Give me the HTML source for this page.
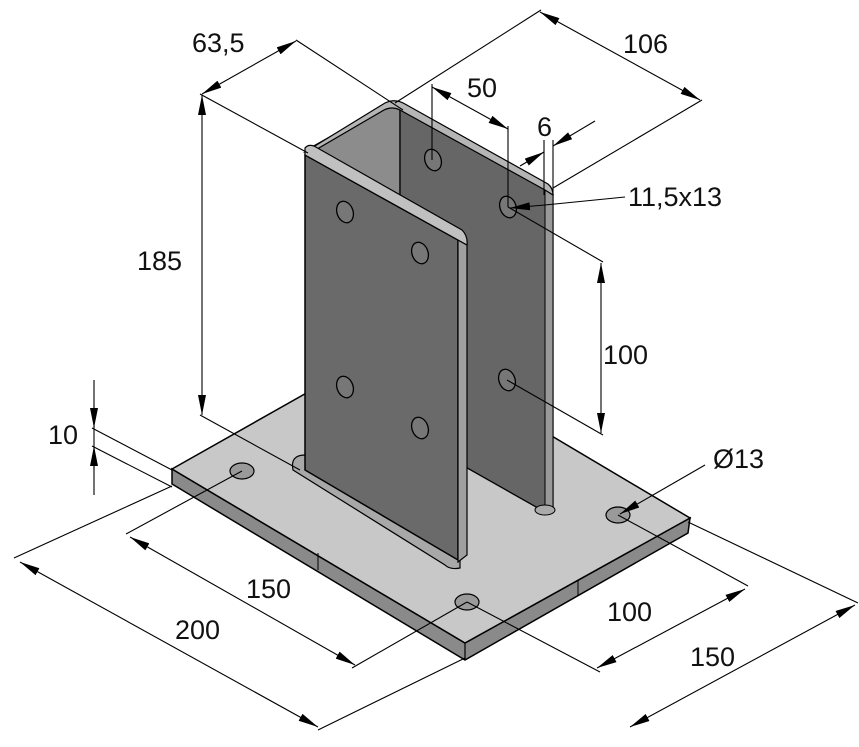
<!DOCTYPE html>
<html><head><style>
html,body{margin:0;padding:0;background:#fff;}
svg{display:block;}
text{font-family:"Liberation Sans",sans-serif;font-size:27px;fill:#111;}
</style></head><body>
<svg width="859" height="747" viewBox="0 0 859 747" xmlns="http://www.w3.org/2000/svg">
<defs>
<marker id="a" viewBox="0 0 20 8" refX="20" refY="4" markerWidth="20" markerHeight="8" markerUnits="userSpaceOnUse" orient="auto-start-reverse"><path d="M0,0 L20,4 L0,8 Z" fill="#000"/></marker>
</defs>
<!-- base plate -->
<polygon points="172,469 172,484 465,660 688,533 690,518 465,643" fill="#8a8a8a" stroke="#000" stroke-width="1.5"/>
<polygon points="172,469 395,343 690,518 465,643" fill="#c8c8c8" stroke="#000" stroke-width="1.5"/>
<line x1="465" y1="643" x2="465" y2="660" stroke="#000" stroke-width="1.2"/>
<line x1="318" y1="553" x2="318" y2="570" stroke="#000"/>
<line x1="578" y1="580" x2="578" y2="595" stroke="#000"/>
<ellipse cx="242" cy="471" rx="12" ry="8" fill="#9a9a9a" stroke="#000" stroke-width="1.2"/>
<ellipse cx="618" cy="515" rx="12" ry="8" fill="#9a9a9a" stroke="#000" stroke-width="1.2"/>
<ellipse cx="467" cy="602" rx="12" ry="8" fill="#9a9a9a" stroke="#000" stroke-width="1.2"/>
<!-- post: web and back flange -->
<polygon points="310,148 390,103 400,106 400,420 310,460" fill="#8c8c8c" stroke="#000" stroke-width="1.2"/>
<polygon points="400,108 545,188 553,194 553,512 545,512 400,430" fill="#666" stroke="#000" stroke-width="1.3"/>
<polygon points="545,190 553,194 553,512 545,512" fill="#999" stroke="#000" stroke-width="1"/>
<path d="M305,152 L385,103 Q395,98 405,104 L548,184 Q553,188 553,195 L545,190 L400,110 Q392,106 384,110 L312,152 Z" fill="#b5b5b5" stroke="#000" stroke-width="1.2"/>
<ellipse cx="545" cy="510" rx="10" ry="5" fill="#aaa" stroke="#000"/>
<!-- front flange -->
<path d="M293,470 Q290,455 305,455 L460,550 L460,568 Q450,570 445,565 Z" fill="#a8a8a8" stroke="#000" stroke-width="1.2"/>
<polygon points="305,155 458,240 458,560 305,470" fill="#6a6a6a" stroke="#000" stroke-width="1.5"/>
<polygon points="458,240 467,245 467,555 458,562" fill="#a0a0a0" stroke="#000" stroke-width="1.2"/>
<path d="M305,155 L305,148 Q308,144 314,146 L462,230 Q468,236 467,245 L458,240 Z" fill="#c0c0c0" stroke="#000" stroke-width="1.2"/>
<!-- holes -->
<g fill="#777" stroke="#000" stroke-width="1.3">
<ellipse cx="345" cy="212" rx="8" ry="11" transform="rotate(-20 345 212)"/>
<ellipse cx="420" cy="253" rx="8" ry="11" transform="rotate(-20 420 253)"/>
<ellipse cx="345" cy="387" rx="8" ry="11" transform="rotate(-20 345 387)"/>
<ellipse cx="420" cy="428" rx="8" ry="11" transform="rotate(-20 420 428)"/>
<ellipse cx="433" cy="160" rx="8" ry="11" transform="rotate(-20 433 160)"/>
<ellipse cx="508" cy="207" rx="8" ry="11" transform="rotate(-20 508 207)"/>
<ellipse cx="507" cy="380" rx="8" ry="11" transform="rotate(-20 507 380)"/>
</g>
<g stroke="#000" stroke-width="1.1" fill="none">
<!-- extension lines -->
<line x1="172" y1="486" x2="14" y2="558"/>
<line x1="465" y1="658" x2="318" y2="730"/>
<line x1="242" y1="471" x2="126" y2="534"/>
<line x1="467" y1="602" x2="352" y2="668"/>
<line x1="467" y1="602" x2="600" y2="672"/>
<line x1="618" y1="515" x2="748" y2="586"/>
<line x1="688" y1="522" x2="858" y2="603"/>
<line x1="92" y1="428" x2="172" y2="470"/>
<line x1="92" y1="446" x2="172" y2="487"/>
<line x1="200" y1="94" x2="308" y2="153"/>
<line x1="200" y1="415" x2="300" y2="470"/>
<line x1="296" y1="40" x2="403" y2="110"/>
<line x1="541" y1="10" x2="395" y2="103"/>
<line x1="702" y1="100" x2="553" y2="188"/>
<line x1="432" y1="84" x2="432" y2="160"/>
<line x1="508" y1="126" x2="508" y2="207"/>
<line x1="508" y1="207" x2="603" y2="262"/>
<line x1="507" y1="380" x2="603" y2="435"/>
<line x1="94" y1="380" x2="94" y2="495"/>
<!-- dimension lines -->
<line x1="20" y1="562" x2="318" y2="727" marker-start="url(#a)" marker-end="url(#a)"/>
<line x1="130" y1="537" x2="355" y2="665" marker-start="url(#a)" marker-end="url(#a)"/>
<line x1="597" y1="668" x2="745" y2="589" marker-start="url(#a)" marker-end="url(#a)"/>
<line x1="630" y1="727" x2="855" y2="605" marker-start="url(#a)" marker-end="url(#a)"/>
<line x1="202" y1="95" x2="202" y2="415" marker-start="url(#a)" marker-end="url(#a)"/>
<line x1="202" y1="94" x2="296" y2="41" marker-start="url(#a)" marker-end="url(#a)"/>
<line x1="540" y1="12" x2="700" y2="100" marker-start="url(#a)" marker-end="url(#a)"/>
<line x1="432" y1="87" x2="508" y2="129" marker-start="url(#a)" marker-end="url(#a)"/>
<line x1="601" y1="263" x2="601" y2="433" marker-start="url(#a)" marker-end="url(#a)"/>
<line x1="94" y1="405" x2="94" y2="428" marker-end="url(#a)"/>
<line x1="94" y1="470" x2="94" y2="446" marker-end="url(#a)"/>
<line x1="520" y1="166" x2="544" y2="152" marker-end="url(#a)"/>
<line x1="595" y1="121" x2="553" y2="146" marker-end="url(#a)"/>
<line x1="544" y1="140" x2="544" y2="195"/>
<line x1="553" y1="140" x2="553" y2="195"/>
<line x1="625" y1="197" x2="545" y2="205"/>
<line x1="545" y1="205" x2="510" y2="208" marker-end="url(#a)"/>
<line x1="705" y1="465" x2="620" y2="514" marker-end="url(#a)"/>
</g>
<text x="192" y="52">63,5</text>
<text x="623" y="53">106</text>
<text x="467" y="97">50</text>
<text x="537" y="136">6</text>
<text x="628" y="206">11,5x13</text>
<text x="137" y="270">185</text>
<text x="603" y="364">100</text>
<text x="48" y="444">10</text>
<text x="713" y="468">Ø13</text>
<text x="246" y="598">150</text>
<text x="175" y="639">200</text>
<text x="607" y="621">100</text>
<text x="690" y="666">150</text>
</svg>
</body></html>
